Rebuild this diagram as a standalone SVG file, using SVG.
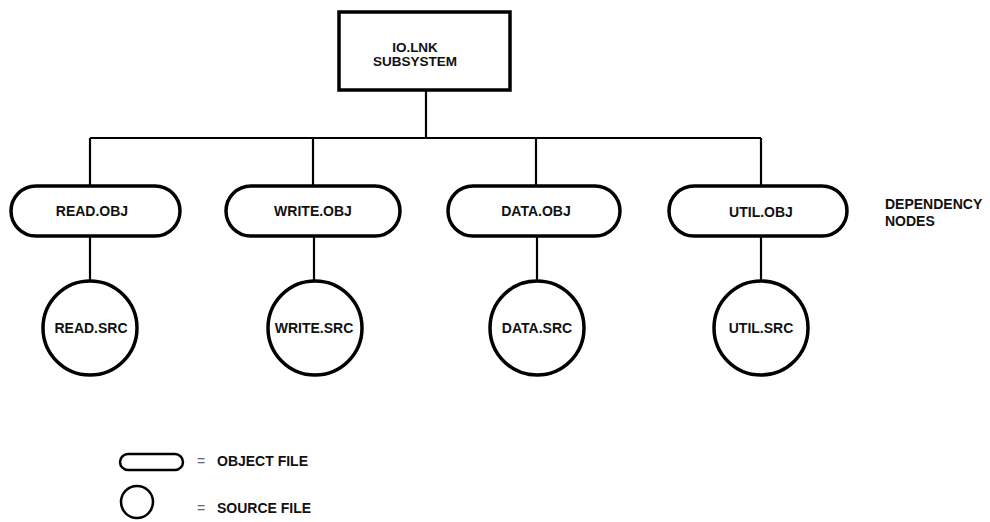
<svg xmlns="http://www.w3.org/2000/svg" width="990" height="522" viewBox="0 0 990 522">
<style>
  .shape { fill: #fff; stroke: #000; stroke-width: 3.5; }
  .conn { fill: none; stroke: #000; stroke-width: 2.2; }
  text { font-family: "Liberation Sans", Arial, sans-serif; font-weight: bold; fill: #111; }
  .lbl { font-size: 14px; text-anchor: middle; }
  .top { font-size: 13.5px; text-anchor: middle; }
  .side { font-size: 14px; }
  .eq { font-size: 14px; font-weight: normal; fill: #666; }
</style>
<rect width="990" height="522" fill="#fff"/>
<g id="connectors">
  <line class="conn" x1="426" y1="90" x2="426" y2="138"/>
  <line class="conn" x1="90" y1="138" x2="761" y2="138"/>
  <line class="conn" x1="90" y1="138" x2="90" y2="186"/>
  <line class="conn" x1="313" y1="138" x2="313" y2="186"/>
  <line class="conn" x1="536" y1="138" x2="536" y2="186"/>
  <line class="conn" x1="761" y1="138" x2="761" y2="186"/>
  <line class="conn" x1="90" y1="236" x2="90" y2="281"/>
  <line class="conn" x1="314" y1="236" x2="314" y2="281"/>
  <line class="conn" x1="537" y1="236" x2="537" y2="281"/>
  <line class="conn" x1="761" y1="236" x2="761" y2="281"/>
</g>
<g id="io-lnk">
  <rect class="shape" x="339" y="12" width="171" height="78"/>
  <text class="top" x="415" y="52">IO.LNK</text>
  <text class="top" x="415" y="66">SUBSYSTEM</text>
</g>
<g id="read-obj">
  <rect class="shape" x="11" y="186" width="169" height="50" rx="25"/>
  <text class="lbl" x="92" y="216">READ.OBJ</text>
</g>
<g id="write-obj">
  <rect class="shape" x="226" y="186" width="174" height="50" rx="25"/>
  <text class="lbl" x="313" y="216">WRITE.OBJ</text>
</g>
<g id="data-obj">
  <rect class="shape" x="448" y="186" width="172" height="50" rx="25"/>
  <text class="lbl" x="536" y="216">DATA.OBJ</text>
</g>
<g id="util-obj">
  <rect class="shape" x="669" y="186" width="178" height="50" rx="25"/>
  <text class="lbl" x="761" y="217">UTIL.OBJ</text>
</g>
<g id="read-src">
  <circle class="shape" cx="90" cy="328" r="47"/>
  <text class="lbl" x="91" y="333">READ.SRC</text>
</g>
<g id="write-src">
  <circle class="shape" cx="315" cy="328" r="47"/>
  <text class="lbl" x="314" y="333">WRITE.SRC</text>
</g>
<g id="data-src">
  <circle class="shape" cx="537" cy="328" r="47"/>
  <text class="lbl" x="537" y="333">DATA.SRC</text>
</g>
<g id="util-src">
  <circle class="shape" cx="761" cy="328" r="47"/>
  <text class="lbl" x="761" y="333">UTIL.SRC</text>
</g>
<g id="dependency-label">
  <text class="side" x="885" y="209">DEPENDENCY</text>
  <text class="side" x="885" y="226">NODES</text>
</g>
<g id="legend">
  <rect x="120" y="454" width="63" height="16" rx="8" fill="#fff" stroke="#000" stroke-width="2.5"/>
  <text class="eq" x="197" y="466">=</text>
  <text class="side" x="217" y="466">OBJECT FILE</text>
  <circle cx="137" cy="502" r="16" fill="#fff" stroke="#000" stroke-width="2.5"/>
  <text class="eq" x="197" y="513">=</text>
  <text class="side" x="217" y="513">SOURCE FILE</text>
</g>
</svg>
